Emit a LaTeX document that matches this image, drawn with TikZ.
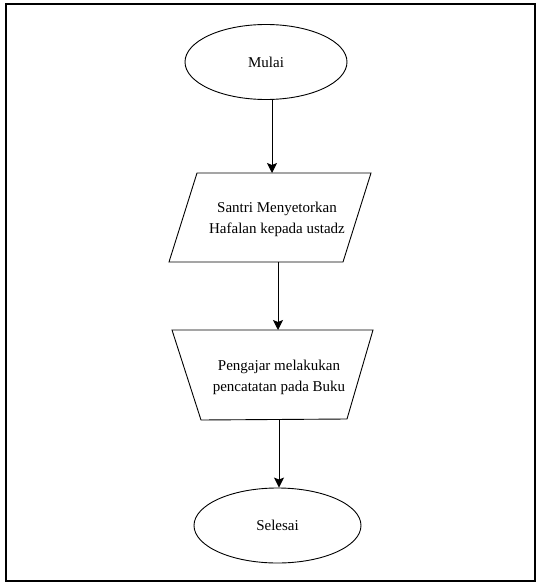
\documentclass[tikz,border=0pt]{standalone}
\usepackage{fontspec}
\setmainfont{Liberation Serif}
\usetikzlibrary{shapes.geometric,arrows.meta}
\begin{document}
\begin{tikzpicture}[x=1pt,y=-1pt,
  txt/.style={font=\fontsize{15}{21}\selectfont, align=center, inner sep=0pt},
  term/.style={ellipse, draw, line width=0.9pt, inner sep=0pt, font=\fontsize{15}{21}\selectfont},
  shapeline/.style={draw, line width=0.9pt, line join=miter},
  arr/.style={draw, line width=1pt, -{Stealth[length=10pt,width=10pt,inset=2pt]}},
  frame/.style={draw, line width=1.6pt}]
\useasboundingbox (0,0) rectangle (538,583);
\draw[frame] (6,4) rectangle (535,581);
% Start
\node[term, minimum width=162pt, minimum height=75pt] (m) at (266,62) {Mulai};
% Input (parallelogram)
\draw[shapeline] (197,173) -- (371,173) -- (343,262) -- (169,262) -- cycle;
\node[txt] (p) at (277,219) {Santri Menyetorkan\\Hafalan kepada ustadz};
\coordinate (ptop) at (272,173);
\coordinate (pbot) at (278,262);
% Manual operation (trapezoid)
\draw[shapeline] (172,330) -- (373,330) -- (347,419) -- (201,420) -- cycle;
\node[txt] (t) at (279,377) {Pengajar melakukan\\pencatatan pada Buku};
\coordinate (ttop) at (278,330);
\coordinate (tbot) at (279,420);
% End
\node[term, minimum width=167pt, minimum height=75pt] (s) at (277.5,525.5) {Selesai};
% Connectors
\draw[arr] (m.south -| ptop) -- (ptop);
\draw[arr] (pbot) -- (ttop);
\draw[arr] (tbot) -- (s.north -| tbot);
\end{tikzpicture}
\end{document}
